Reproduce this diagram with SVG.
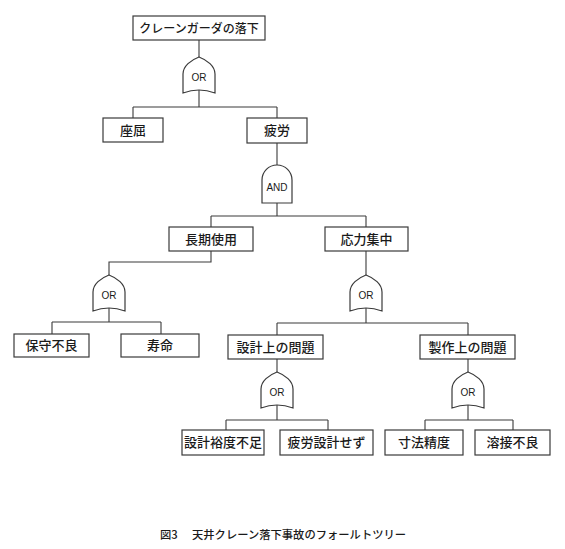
<svg xmlns="http://www.w3.org/2000/svg" xmlns:xlink="http://www.w3.org/1999/xlink" width="565" height="549" viewBox="0 0 565 549">
<style>
.box{fill:#fff;stroke:#3a3a3a;stroke-width:1.2}
.gate{fill:#fff;stroke:#3a3a3a;stroke-width:1.2}
.ln{fill:none;stroke:#3a3a3a;stroke-width:1.1}
.t{font-family:"Noto Sans CJK JP","Noto Sans",sans-serif;font-size:13px;font-weight:500;fill:#1a1a1a;text-anchor:middle}
.g{font-family:"Liberation Sans",Arial,sans-serif;font-size:10px;fill:#1a1a1a;text-anchor:middle}
.cap{font-family:"Noto Sans CJK JP","Noto Sans",sans-serif;font-size:11.3px;font-weight:500;fill:#1a1a1a}
</style>
<defs>
<path id="org" d="M-16,36 L-16,17 C-16,9 -8,3 0,0 C8,3 16,9 16,17 L16,36 Q0,30 -16,36 Z"/>
<path id="andg" d="M-15,38 L-15,15 A15,15 0 0 1 15,15 L15,38 Z"/>
</defs>
<rect width="565" height="549" fill="#fff"/>
<g id="connectors">
<path class="ln" d="M199,40 V57"/>
<path class="ln" d="M199,90 V107 M133,107 H277 M133,107 V118 M277,107 V118"/>
<path class="ln" d="M277,143 V165"/>
<path class="ln" d="M277,203 V216 M211,216 H366 M211,216 V227 M366,216 V227"/>
<path class="ln" d="M211,251 V262 H109 V275"/>
<path class="ln" d="M109,308 V322 M52,322 H161 M52,322 V334 M161,322 V334"/>
<path class="ln" d="M366,251 V275"/>
<path class="ln" d="M366,308 V323 M277,323 H468 M277,323 V335 M468,323 V335"/>
<path class="ln" d="M277,359 V372"/>
<path class="ln" d="M277,405 V420 M226,420 H328 M226,420 V430 M328,420 V430"/>
<path class="ln" d="M468,359 V372"/>
<path class="ln" d="M468,405 V420 M425,420 H513 M425,420 V430 M513,420 V430"/>
</g>
<g id="n-top"><rect class="box" x="133" y="16" width="132" height="24"/><text class="t" x="199" y="32.5" style="font-size:12px">クレーンガーダの落下</text></g>
<g id="gate1"><use href="#org" class="gate" x="199" y="57"/><text class="g" x="199" y="81">OR</text></g>
<g id="n-zakutsu"><rect class="box" x="103" y="118" width="60" height="24"/><text class="t" x="133" y="134.5">座屈</text></g>
<g id="n-hirou"><rect class="box" x="247" y="118" width="60" height="25"/><text class="t" x="277" y="135">疲労</text></g>
<g id="gate2"><use href="#andg" class="gate" x="277" y="165"/><text class="g" x="277" y="191">AND</text></g>
<g id="n-choki"><rect class="box" x="169" y="227" width="84" height="24"/><text class="t" x="211" y="243.5">長期使用</text></g>
<g id="n-oryoku"><rect class="box" x="325" y="227" width="83" height="24"/><text class="t" x="366.5" y="243.5">応力集中</text></g>
<g id="gate3"><use href="#org" class="gate" x="109" y="275"/><text class="g" x="109" y="299">OR</text></g>
<g id="n-hoshu"><rect class="box" x="14" y="334" width="75" height="23"/><text class="t" x="51.5" y="350">保守不良</text></g>
<g id="n-jumyo"><rect class="box" x="121" y="334" width="78" height="23"/><text class="t" x="160" y="350">寿命</text></g>
<g id="gate4"><use href="#org" class="gate" x="366" y="275"/><text class="g" x="366" y="299">OR</text></g>
<g id="n-sekkei"><rect class="box" x="228" y="335" width="95" height="24"/><text class="t" x="275.5" y="351.5">設計上の問題</text></g>
<g id="n-seisaku"><rect class="box" x="420" y="335" width="95" height="24"/><text class="t" x="467.5" y="351.5">製作上の問題</text></g>
<g id="gate5"><use href="#org" class="gate" x="277" y="372"/><text class="g" x="277" y="396">OR</text></g>
<g id="gate6"><use href="#org" class="gate" x="468" y="372"/><text class="g" x="468" y="396">OR</text></g>
<g id="n-yudo"><rect class="box" x="182" y="430" width="82" height="25"/><text class="t" x="223" y="447">設計裕度不足</text></g>
<g id="n-hiroukei"><rect class="box" x="280" y="430" width="93" height="25"/><text class="t" x="326.5" y="447">疲労設計せず</text></g>
<g id="n-sunpo"><rect class="box" x="385" y="430" width="78" height="25"/><text class="t" x="424" y="447">寸法精度</text></g>
<g id="n-yosetsu"><rect class="box" x="475" y="430" width="75" height="25"/><text class="t" x="512.5" y="447">溶接不良</text></g>
<text class="cap" y="539"><tspan x="160">図3</tspan><tspan x="192">天井クレーン落下事故のフォールトツリー</tspan></text>
</svg>
